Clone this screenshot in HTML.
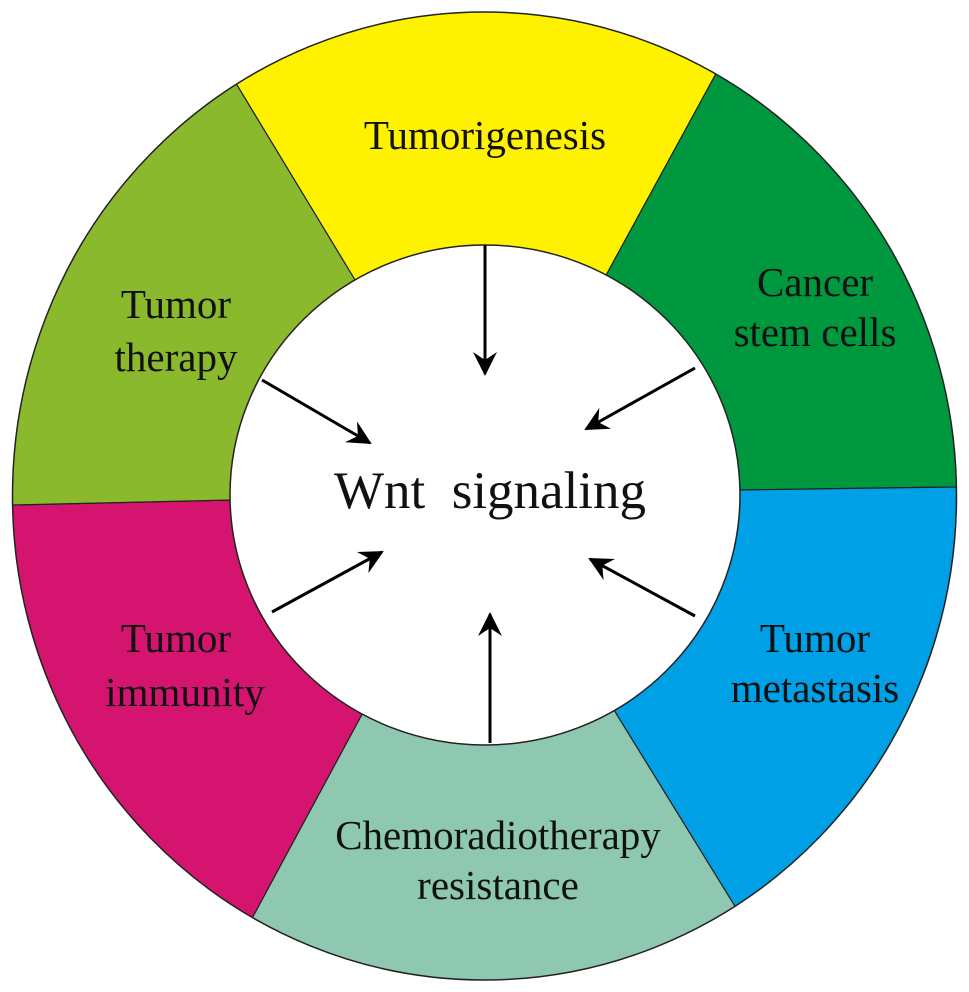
<!DOCTYPE html>
<html><head><style>html,body{margin:0;background:#fff;width:969px;height:992px;overflow:hidden}svg{display:block}</style></head><body>
<svg width="969" height="992" viewBox="0 0 969 992" xmlns="http://www.w3.org/2000/svg">
<defs>
<clipPath id="c"><ellipse cx="484.5" cy="496" rx="472" ry="484"/></clipPath>
<marker id="h" viewBox="0 0 12 12" refX="11" refY="6" markerWidth="24" markerHeight="24" markerUnits="userSpaceOnUse" orient="auto"><path d="M0,0 L12,6 L0,12 L4,6 z" fill="#000"/></marker>
</defs>
<g clip-path="url(#c)" stroke="#222" stroke-width="1.2">
<polygon fill="#fff200" points="485,495 352,275 134,-85 826,-128 610,268"/>
<polygon fill="#00983f" points="485,495 610,268 826,-128 1200,-200 1172,484 738,490"/>
<polygon fill="#00a0e6" points="485,495 738,490 1172,484 1200,1200 839,1075 617,715"/>
<polygon fill="#8fc8b0" points="485,495 617,715 839,1075 140,1126 360,718"/>
<polygon fill="#d4146f" points="485,495 360,718 140,1126 -200,1200 -208,510 232,500"/>
<polygon fill="#8ab92d" points="485,495 232,500 -208,510 -200,-200 134,-85 352,275"/>
</g>
<ellipse cx="484.5" cy="496" rx="472" ry="484" fill="none" stroke="#222" stroke-width="1.5"/>
<ellipse cx="485" cy="495" rx="255" ry="250" fill="#fff" stroke="#222" stroke-width="1.5"/>
<g stroke="#000" stroke-width="3" marker-end="url(#h)">
<line x1="485" y1="245" x2="485" y2="374"/>
<line x1="262" y1="380" x2="370" y2="443"/>
<line x1="695" y1="368" x2="586" y2="429"/>
<line x1="272" y1="612" x2="382" y2="552"/>
<line x1="695" y1="616" x2="590" y2="559"/>
<line x1="490" y1="743" x2="490" y2="614"/>
</g>
<g font-family="Liberation Serif, serif" font-size="41" text-anchor="middle" fill="#111">
<text x="485" y="149">Tumorigenesis</text>
<text x="176" y="318">Tumor</text><text x="176" y="371">therapy</text>
<text x="815" y="296">Cancer</text><text x="815" y="346">stem cells</text>
<text x="176" y="652">Tumor</text><text x="185" y="706">immunity</text>
<text x="815" y="652">Tumor</text><text x="815" y="702">metastasis</text>
<text x="498" y="849">Chemoradiotherapy</text><text x="498" y="899">resistance</text>
<text x="490" y="508" font-size="53" xml:space="preserve">Wnt  signaling</text>
</g>
</svg>
</body></html>
